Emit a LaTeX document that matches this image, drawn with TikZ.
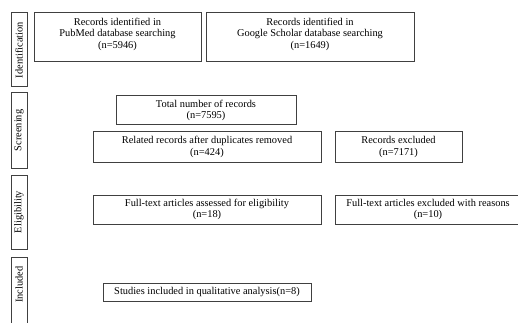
\documentclass[tikz,border=0pt]{standalone}
\usepackage{fontspec}
\setmainfont{Liberation Serif}
\begin{document}
\begin{tikzpicture}[x=1pt,y=-1pt,
  box/.style={draw=black!75, line width=1pt, align=center, inner sep=0pt, font=\fontsize{10.4}{11.5}\selectfont},
  txt/.style={align=center, inner sep=0pt, font=\fontsize{10.4}{11.5}\selectfont},
  side/.style={draw=black!75, line width=1pt, inner sep=0pt, minimum width=16pt},
  sidetxt/.style={rotate=90, font=\fontsize{10.4}{11.5}\selectfont}]
\useasboundingbox (0,0) rectangle (518,323);
\begin{scope}
\clip (0,0) rectangle (518,323);
% side labels
\node[side, minimum height=74pt] (sid) at (19,50) {};
\node[sidetxt] (tid) at (sid.center) {Identification};
\node[side, minimum height=75pt] (sscr) at (19,130.5) {};
\node[sidetxt] (tscr) at (sscr.center) {Screening};
\node[side, minimum height=74pt] (selig) at (19,212) {};
\node[sidetxt] (telig) at (selig.center) {Eligibility};
\node[side, minimum height=74pt] (sinc) at (19,294) {};
\node[sidetxt] (tinc) at (19,284.5) {Included};
% boxes
\node[box, minimum width=167pt, minimum height=49pt] (pub) at (117.5,37.5) {};
\node[txt] (pubt) at (117.5,34)
  {Records identified in\\PubMed database searching\\(n=5946)};
\node[box, minimum width=208pt, minimum height=49pt] (goo) at (310,37.5) {};
\node[txt] (goot) at (310,34)
  {Records identified in\\Google Scholar database searching\\(n=1649)};
\node[box, minimum width=180pt, minimum height=29pt] (tot) at (206,110.5)
  {Total number of records\\(n=7595)};
\node[box, minimum width=228pt, minimum height=30pt] (rel) at (207,147)
  {Related records after duplicates removed\\(n=424)};
\node[box, minimum width=127pt, minimum height=30pt] (exc) at (398.5,147)
  {Records excluded\\(n=7171)};
\node[box, minimum width=228pt, minimum height=29pt] (ful) at (207,209.5)
  {Full-text articles assessed for eligibility\\(n=18)};
\node[box, minimum width=186pt, minimum height=29pt] (fex) at (428,209.5)
  {Full-text articles excluded with reasons\\(n=10)};
\node[box, minimum width=208pt, minimum height=18pt] (stu) at (207,292)
  {Studies included in qualitative analysis(n=8)};
\end{scope}
\end{tikzpicture}
\end{document}
